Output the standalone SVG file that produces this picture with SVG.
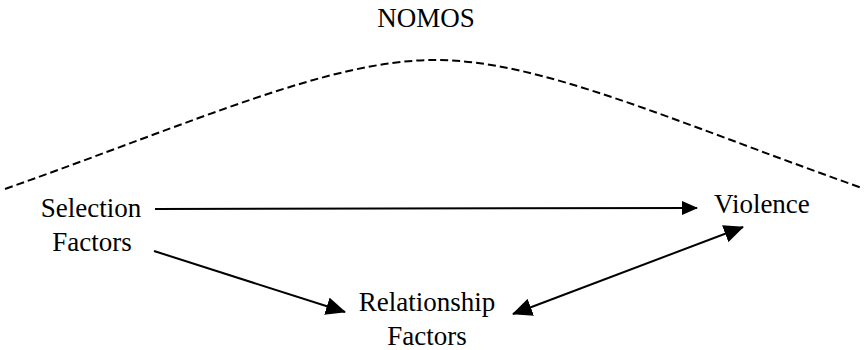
<svg xmlns="http://www.w3.org/2000/svg" width="865" height="350" viewBox="0 0 865 350">
  <style>
    text { font-family: 'Liberation Serif', 'Times New Roman', Times, serif; font-size: 27px; fill: #000; }
    .conn { stroke: #000; stroke-width: 2; fill: none; }
    .nomos { stroke: #000; stroke-width: 2; fill: none; stroke-dasharray: 8 4; }
  </style>
  <defs>
    <marker id="ah" viewBox="0 0 20 18" refX="19" refY="9" markerWidth="20" markerHeight="18" markerUnits="userSpaceOnUse" orient="auto-start-reverse">
      <path d="M0,0 L20,9 L0,18 Z" fill="#000"/>
    </marker>
    <marker id="ahs" viewBox="0 0 16 14" refX="15" refY="7" markerWidth="16" markerHeight="14" markerUnits="userSpaceOnUse" orient="auto">
      <path d="M0,0 L16,7 L0,14 Z" fill="#000"/>
    </marker>
  </defs>
  <rect width="865" height="350" fill="#fff"/>
  <g id="nomos">
    <path class="nomos" d="M5,189 C200,120 330,60 435,60 C540,60 670,120 862,188"/>
    <text x="426" y="27" text-anchor="middle">NOMOS</text>
  </g>
  <g id="selection">
    <text x="91" y="217" text-anchor="middle">Selection</text>
    <text x="92" y="251" text-anchor="middle">Factors</text>
  </g>
  <g id="violence">
    <text x="714" y="213">Violence</text>
  </g>
  <g id="relationship">
    <text x="427" y="311" text-anchor="middle">Relationship</text>
    <text x="427" y="345" text-anchor="middle">Factors</text>
  </g>
  <g id="connectors">
    <line class="conn" x1="155" y1="209" x2="697" y2="208" marker-end="url(#ahs)"/>
    <line class="conn" x1="154" y1="251" x2="345" y2="312" marker-end="url(#ah)"/>
    <line class="conn" x1="513" y1="314" x2="743" y2="227" marker-start="url(#ah)" marker-end="url(#ah)"/>
  </g>
</svg>
